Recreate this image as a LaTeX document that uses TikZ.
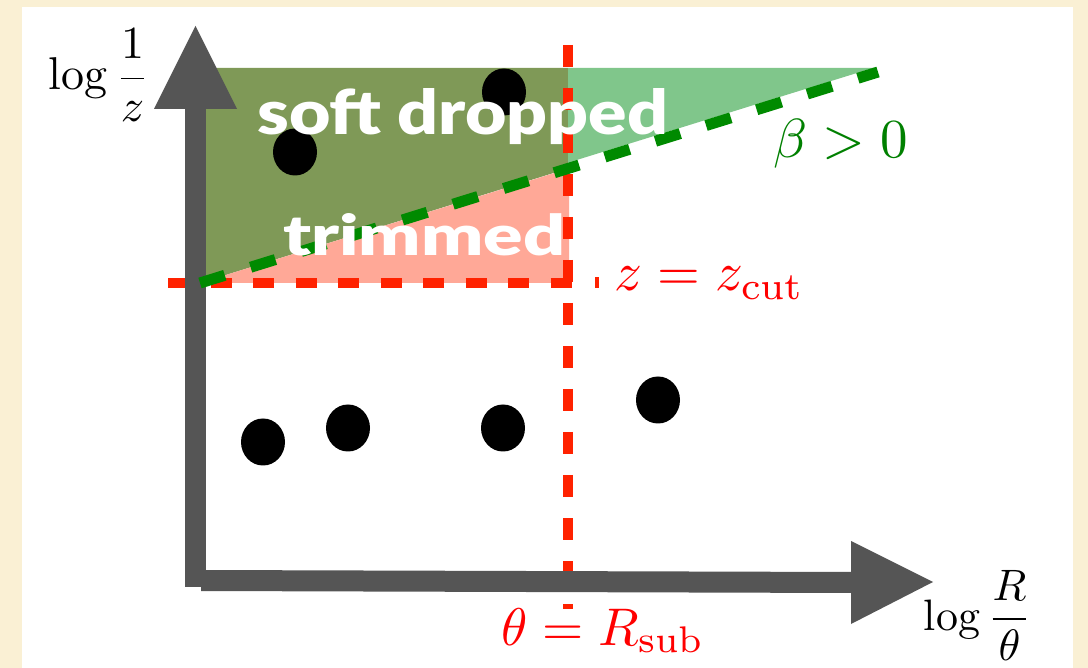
\documentclass[tikz,border=0pt]{standalone}
\usepackage{fontspec}
\usepackage{graphicx}
\newfontfamily\latoblack{Lato Black}
\usetikzlibrary{shapes.geometric}
\definecolor{bgbeige}{HTML}{FAF0D4}
\definecolor{olive}{HTML}{7F9957}
\definecolor{lgreen}{HTML}{80C68B}
\definecolor{salmon}{HTML}{FFA897}
\definecolor{redline}{HTML}{FF2200}
\definecolor{greenline}{HTML}{008A00}
\definecolor{labgreen}{HTML}{008000}
\definecolor{axgray}{HTML}{555555}
\tikzset{
  dot/.style={ellipse, fill=black, inner sep=0pt, minimum width=44pt, minimum height=47pt},
  redcut/.style={draw=redline, line width=10pt},
  greencut/.style={draw=greenline, line width=11pt, dash pattern=on 26pt off 27pt},
  region/.style={white, font=\latoblack\fontsize{63}{70}\selectfont, inner sep=0pt, anchor=base west},
  mlabel/.style={inner sep=0pt, anchor=base west},
}
\begin{document}
\begin{tikzpicture}[x=1pt,y=-1pt]
\fill[bgbeige] (0,0) rectangle (1088,668);
\useasboundingbox (0,0) rectangle (1088,668);
\fill[white] (22,7) rectangle (1073,668);
% regions
\fill[olive] (195,68) -- (568,68) -- (568,168.5) -- (200,283) -- (195,283) -- cycle;
\fill[lgreen] (568,68) -- (873,68) -- (568,162.7) -- cycle;
\fill[salmon] (200,283) -- (569,168.5) -- (569,283) -- cycle;
% cut lines
\coordinate (h0) at (168,283);
\coordinate (h1) at (573,283);
\coordinate (v0) at (568,45);
\coordinate (v1) at (568,609);
\draw[redcut, dash pattern=on 21pt off 21.5pt] (h0) -- (h1);
\draw[redcut, dash pattern=on 22pt off 21pt] (v0) -- (v1);
\fill[redline] (595,277) rectangle (599,288);
% axes
\fill[axgray] (185,109) rectangle (206,587);
\fill[axgray] (154,109) -- (195.5,26) -- (237,109) -- cycle;
\fill[axgray] (201,570) -- (852,572) -- (852,593) -- (201,591) -- cycle;
\fill[axgray] (851,541) -- (933,582) -- (851,624) -- cycle;
% beta line
\coordinate (g0) at (200,283);
\coordinate (g1) at (878,72);
\draw[greencut] (g0) -- (g1);
% dots
\node[dot] (d1) at (295,152) {};
\node[dot] (d2) at (504,92) {};
\node[dot] (d3) at (263,442) {};
\node[dot] (d4) at (348,428) {};
\node[dot] (d5) at (503,428) {};
\node[dot] (d6) at (658,400) {};
% texts
\node[region] (sd) at (257,135) {\resizebox{411pt}{46pt}{soft dropped}};
\node[region] (tr) at (283,256) {\resizebox{282pt}{42pt}{trimmed}};
\node[mlabel, scale=4.6] (ly) at (48,90) {$\displaystyle\log\frac{1}{z}$};
\node[mlabel, scale=4.4] (lx) at (923,630) {$\displaystyle\log\frac{R}{\theta}$};
\node[mlabel, text=labgreen, scale=5.5] (lb) at (772,158) {$\beta>0$};
\node[mlabel, text=red, scale=5.5] (lz) at (613,291) {$z=z_{\mathrm{cut}}$};
\node[mlabel, text=red, scale=5.3] (lt) at (500,645) {$\theta=R_{\mathrm{sub}}$};
\end{tikzpicture}
\end{document}
